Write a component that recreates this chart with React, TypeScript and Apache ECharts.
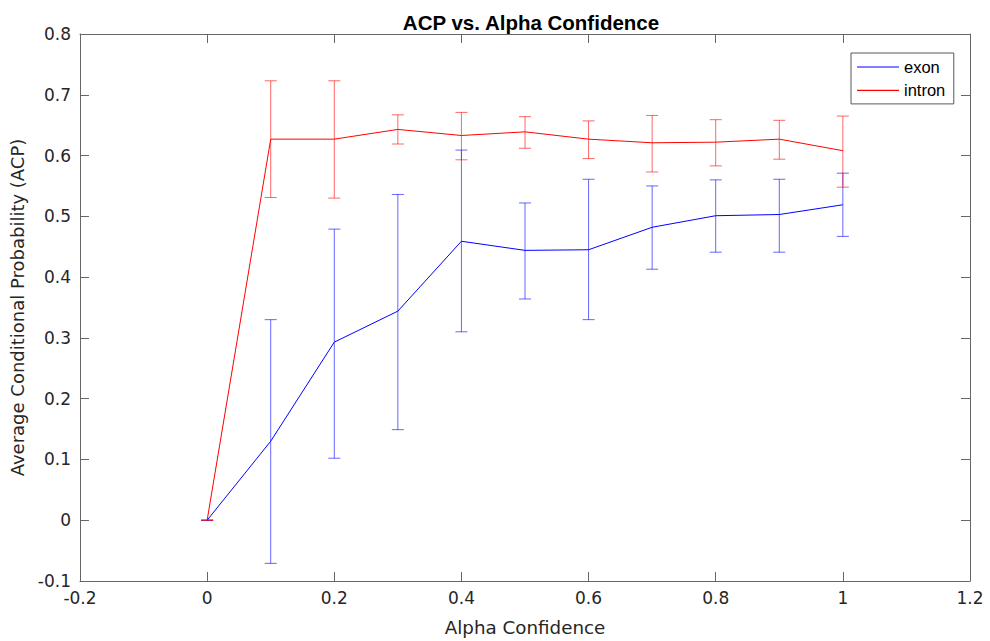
import React, { useEffect, useRef } from "react";
import * as echarts from "echarts";

const alpha = [0, 0.1, 0.2, 0.3, 0.4, 0.5, 0.6, 0.7, 0.8, 0.9, 1.0];
const exonMean = [0, 0.130, 0.293, 0.344, 0.459, 0.444, 0.445, 0.482, 0.501, 0.503, 0.519];
const exonLow = [0, -0.071, 0.102, 0.149, 0.310, 0.364, 0.330, 0.413, 0.441, 0.441, 0.467];
const exonHigh = [0, 0.330, 0.479, 0.536, 0.609, 0.522, 0.561, 0.550, 0.560, 0.561, 0.571];
const intronMean = [0, 0.627, 0.627, 0.643, 0.633, 0.639, 0.627, 0.621, 0.622, 0.627, 0.608];
const intronLow = [0, 0.531, 0.530, 0.619, 0.593, 0.612, 0.595, 0.573, 0.583, 0.594, 0.548];
const intronHigh = [0, 0.723, 0.723, 0.667, 0.671, 0.664, 0.657, 0.666, 0.659, 0.658, 0.665];

const BLUE = "#0000ff";
const RED = "#ff0000";
const AXIS = "#666666";
const TXT = "#262626";
const FONT = "Liberation Sans, Arial, sans-serif";
const WIDE = "DejaVu Sans, sans-serif";

function errSeries(name: string, color: string, low: number[], high: number[]) {
  return {
    type: "custom",
    name,
    xAxisIndex: 0,
    yAxisIndex: 0,
    silent: true,
    data: alpha.map((a, i) => [a, low[i], high[i]]),
    renderItem: (params: any, api: any) => {
      const x = api.value(0);
      const lo = api.coord([x, api.value(1)]);
      const hi = api.coord([x, api.value(2)]);
      const w = 6;
      const style = { stroke: color, lineWidth: 1, opacity: 0.6 };
      return {
        type: "group",
        children: [
          { type: "line", shape: { x1: lo[0], y1: lo[1], x2: hi[0], y2: hi[1] }, style },
          { type: "line", shape: { x1: lo[0] - w, y1: lo[1], x2: lo[0] + w, y2: lo[1] }, style },
          { type: "line", shape: { x1: hi[0] - w, y1: hi[1], x2: hi[0] + w, y2: hi[1] }, style },
        ],
      };
    },
    z: 2,
  };
}

export default function App() {
  const ref = useRef<HTMLDivElement>(null);
  useEffect(() => {
    if (!ref.current) return;
    const chart = echarts.init(ref.current, undefined, { renderer: "svg" });
    const axisCommon = {
      type: "value",
      axisLine: { show: true, onZero: false, lineStyle: { color: AXIS, width: 1 } },
      axisTick: { show: true, inside: true, length: 9, lineStyle: { color: AXIS } },
      splitLine: { show: false },
    };
    chart.setOption({
      animation: false,
      backgroundColor: "#ffffff",
      title: {
        text: "ACP vs. Alpha Confidence",
        left: 526,
        top: 7,
        textAlign: "center",
        textStyle: { fontFamily: FONT, fontSize: 20.5, fontWeight: "bold", color: "#000" },
      },
      grid: { left: 80, right: 20, top: 34, bottom: 59 },
      legend: {
        left: 851,
        top: 53,
        orient: "vertical",
        data: ["exon", "intron"],
        icon: "rect",
        backgroundColor: "#fff",
        borderColor: "#595959",
        borderWidth: 1,
        padding: [5.5, 8.5, 5, 6],
        itemGap: 6.4,
        itemWidth: 42,
        itemHeight: 1.2,
        textStyle: { fontFamily: FONT, fontSize: 16.5, lineHeight: 17, color: "#000" },
        borderRadius: 0,
      },
      xAxis: [
        {
          ...axisCommon,
          position: "bottom",
          min: -0.2,
          max: 1.2,
          interval: 0.2,
          name: "Alpha Confidence",
          nameLocation: "middle",
          nameGap: 37,
          nameTextStyle: { fontFamily: WIDE, fontSize: 18.3, color: TXT },
          axisLabel: { fontFamily: WIDE, fontSize: 17, color: TXT, margin: 8 },
        },
        {
          ...axisCommon,
          position: "top",
          min: -0.2,
          max: 1.2,
          interval: 0.2,
          axisLabel: { show: false },
        },
      ],
      yAxis: [
        {
          ...axisCommon,
          position: "left",
          min: -0.1,
          max: 0.8,
          interval: 0.1,
          name: "Average Conditional Probability (ACP)",
          nameLocation: "middle",
          nameGap: 48,
          nameTextStyle: { fontFamily: WIDE, fontSize: 18, color: TXT },
          axisLabel: { fontFamily: WIDE, fontSize: 17, color: TXT, margin: 9 },
        },
        {
          ...axisCommon,
          position: "right",
          min: -0.1,
          max: 0.8,
          interval: 0.1,
          axisLabel: { show: false },
        },
      ],
      series: [
        {
          type: "line",
          name: "exon",
          xAxisIndex: 0,
          yAxisIndex: 0,
          data: alpha.map((a, i) => [a, exonMean[i]]),
          symbol: "none",
          lineStyle: { color: BLUE, width: 1 },
          itemStyle: { color: BLUE },
          z: 3,
        },
        errSeries("exon", BLUE, exonLow, exonHigh),
        {
          type: "line",
          name: "intron",
          xAxisIndex: 0,
          yAxisIndex: 0,
          data: alpha.map((a, i) => [a, intronMean[i]]),
          symbol: "none",
          lineStyle: { color: RED, width: 1 },
          itemStyle: { color: RED },
          z: 3,
        },
        errSeries("intron", RED, intronLow, intronHigh),
      ],
    });
    return () => chart.dispose();
  }, []);
  return <div ref={ref} style={{ width: 990, height: 641, position: "absolute", left: 0, top: 0 }} />;
}
